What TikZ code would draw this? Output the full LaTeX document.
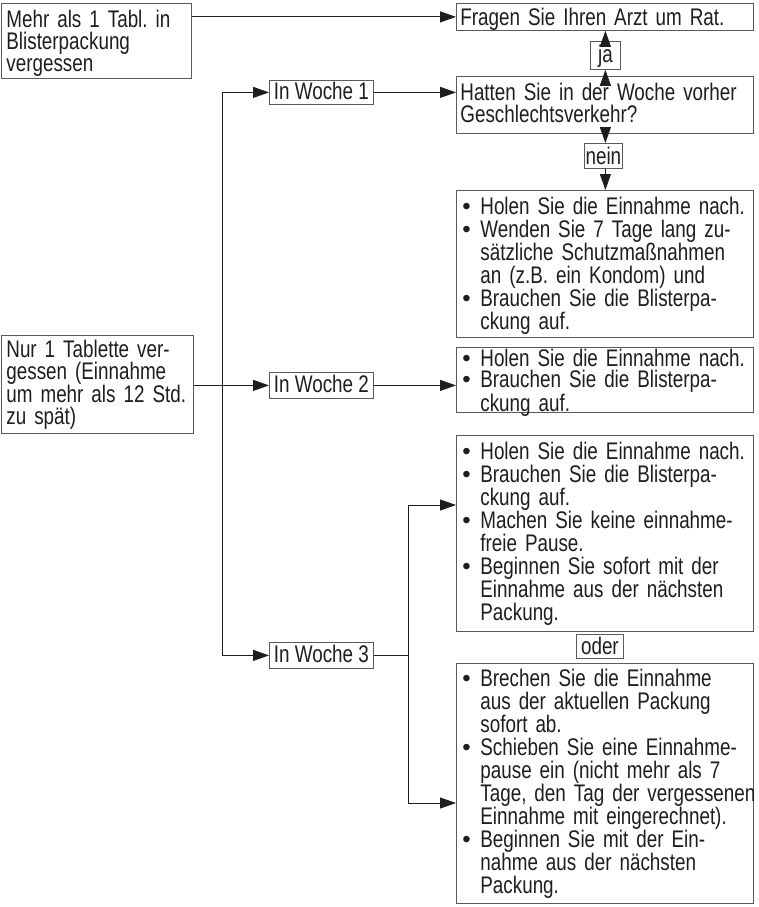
\documentclass[tikz,border=0pt]{standalone}
\usepackage{fontspec}
\setmainfont[FakeStretch=0.785]{Liberation Sans}
\newfontfamily\dotfont{Liberation Sans}
\usetikzlibrary{arrows.meta}
\definecolor{ink}{HTML}{1E1E1E}
\definecolor{rim}{HTML}{5A5A5A}
\newcommand{\zeile}[1]{\mbox{#1}}
\newcommand{\bul}[1]{\mbox{\makebox[18pt][l]{\dotfont •}#1}}
\newcommand{\cont}[1]{\mbox{\hspace*{18pt}#1}}
\tikzset{
  boxline/.style={draw=rim, line width=0.8pt, anchor=north west, inner ysep=0pt,
    text=ink, font=\fontsize{24}{22}\selectfont\frenchspacing},
  flowbox/.style={boxline, align=left, inner xsep=5pt},
  pillbox/.style={flowbox, inner xsep=6pt, font=\fontsize{24}{23}\selectfont\frenchspacing},
  tagbox/.style={boxline, inner xsep=0pt},
  dims/.style n args={3}{text width=#1, text height=#2, text depth=#3},
  tagdims/.style n args={3}{minimum width=#1, text height=#2, text depth=#3},
  wire/.style={draw=ink, line width=1pt},
  link/.style={wire, -{Triangle[length=16pt,width=11pt]}}
}

\begin{document}
\begin{tikzpicture}[x=1pt, y=-1pt]
  \path[fill=white, use as bounding box] (0,0) rectangle (758,907);

  %linke Spalte
  \node[flowbox, dims={180pt}{24pt}{51pt}] (mehr) at (1,3)
    {\zeile{Mehr als 1 Tabl. in}\\ \zeile{Blisterpackung}\\ \zeile{vergessen}};
  \node[flowbox, dims={182pt}{22pt}{76pt}] (nur) at (1,335)
    {\zeile{Nur 1 Tablette ver-}\\ \zeile{gessen (Einnahme}\\
     \zeile{um mehr als 12 Std.}\\ \zeile{zu spät)}};

  %Wochen
  \node[tagbox, tagdims={104pt}{19pt}{5pt}] (woche1) at (269,80) {In Woche 1};
  \node[tagbox, tagdims={104pt}{20pt}{6pt}] (woche2) at (269,372) {In Woche 2};
  \node[tagbox, tagdims={104pt}{20pt}{6pt}] (woche3) at (269,642) {In Woche 3};

  %rechte Spalte
  \node[flowbox, inner xsep=4pt, dims={289pt}{22pt}{5pt}] (arzt) at (456,3)
    {\zeile{Fragen Sie Ihren Arzt um Rat.}};
  \node[tagbox, tagdims={30pt}{21pt}{7pt}] (ja) at (590,41) {ja};
  \node[flowbox, inner xsep=4pt, dims={289pt}{24pt}{33pt}] (frage) at (456,76)
    {\zeile{Hatten Sie in der Woche vorher}\\ \zeile{Geschlechtsverkehr?}};
  \node[tagbox, tagdims={38pt}{21pt}{4pt}] (nein) at (584,143) {nein};

  \node[pillbox, dims={285pt}{24pt}{123pt}] (rat1) at (456,190)
    {\bul{Holen Sie die Einnahme nach.}\\
     \bul{Wenden Sie 7 Tage lang zu-}\\
     \cont{sätzliche Schutzmaßnahmen}\\
     \cont{an (z.B. ein Kondom) und}\\
     \bul{Brauchen Sie die Blisterpa-}\\
     \cont{ckung auf.}};
  \node[pillbox, font=\fontsize{24}{21.5}\selectfont, dims={285pt}{19pt}{46pt}] (rat2) at (456,347)
    {\bul{Holen Sie die Einnahme nach.}\\
     \bul{Brauchen Sie die Blisterpa-}\\
     \cont{ckung auf.}};
  \node[pillbox, dims={285pt}{24pt}{172pt}] (rat3) at (456,435)
    {\bul{Holen Sie die Einnahme nach.}\\
     \bul{Brauchen Sie die Blisterpa-}\\
     \cont{ckung auf.}\\
     \bul{Machen Sie keine einnahme-}\\
     \cont{freie Pause.}\\
     \bul{Beginnen Sie sofort mit der}\\
     \cont{Einnahme aus der nächsten}\\
     \cont{Packung.}};
  \node[tagbox, tagdims={47pt}{20pt}{4pt}] (oder) at (576,634) {oder};
  \node[pillbox, dims={285pt}{23pt}{217pt}] (rat4) at (456,663)
    {\bul{Brechen Sie die Einnahme}\\
     \cont{aus der aktuellen Packung}\\
     \cont{sofort ab.}\\
     \bul{Schieben Sie eine Einnahme-}\\
     \cont{pause ein (nicht mehr als 7}\\
     \cont{Tage, den Tag der vergessenen}\\
     \cont{Einnahme mit eingerechnet).}\\
     \bul{Beginnen Sie mit der Ein-}\\
     \cont{nahme aus der nächsten}\\
     \cont{Packung.}};

  %Hilfspunkte
  \coordinate (spine) at (222,0);
  \coordinate (forktop) at (408,505);
  \coordinate (forkbot) at (408,803);

  %Pfeile oben
  \draw[link] (mehr.east |- arzt.west) -- (arzt.west);
  \draw[link] (ja.south |- frage.north) -- (ja.south);
  \draw[link] (ja.north) -- (ja.north |- arzt.south);
  \draw[link] (ja.south |- frage.south) -- (ja.south |- nein.north);
  \draw[link] (ja.south |- nein.south) -- (ja.south |- rat1.north);
  \draw[link] (woche1.east) -- (woche1.east -| frage.west);

  %Stamm links
  \draw[wire] (spine |- woche1.west) -- (spine |- woche3.west);
  \draw[link] (spine |- woche1.west) -- (woche1.west);
  \draw[link] (nur.east |- woche2.west) -- (woche2.west);
  \draw[link] (spine |- woche3.west) -- (woche3.west);
  \draw[link] (woche2.east) -- (woche2.east -| rat2.west);

  %Gabel Woche 3
  \draw[wire] (woche3.east) -- (woche3.east -| forktop);
  \draw[wire] (forktop) -- (forkbot);
  \draw[link] (forktop) -- (forktop -| rat3.west);
  \draw[link] (forkbot) -- (forkbot -| rat4.west);
\end{tikzpicture}
\end{document}
